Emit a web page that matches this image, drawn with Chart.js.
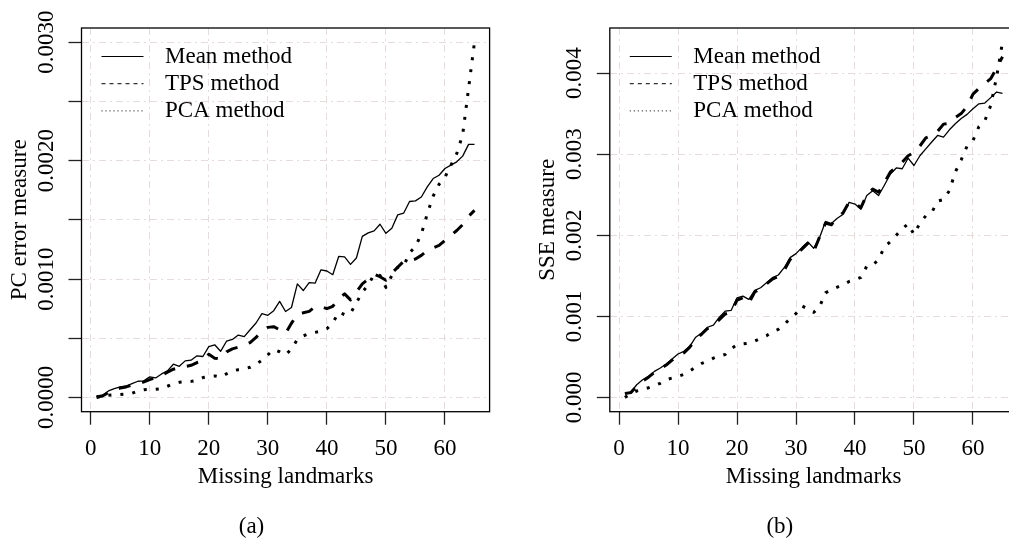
<!DOCTYPE html>
<html>
<head>
<meta charset="utf-8">
<script src="https://cdn.jsdelivr.net/npm/chart.js@4/dist/chart.umd.min.js"></script>
<style>
  html, body { margin: 0; padding: 0; background: #fff; overflow: hidden; width: 1009px; height: 539px; }
  .panel { position: absolute; top: 0; }
  #wrapA { left: 0; }
  #wrapB { left: 500px; }
</style>
</head>
<body>
<div class="panel" id="wrapA"><canvas id="chartA" width="500" height="539"></canvas></div>
<div class="panel" id="wrapB"><canvas id="chartB" width="558" height="539"></canvas></div>
<script>
// Number of missing landmarks (x values)
const missingLandmarks = [
  1, 2, 3, 4, 5, 6, 7, 8, 9, 10, 11, 12, 13, 14, 15, 16, 17, 18, 19, 20,
  21, 22, 23, 24, 25, 26, 27, 28, 29, 30, 31, 32, 33, 34, 35, 36, 37, 38, 39, 40,
  41, 42, 43, 44, 45, 46, 47, 48, 49, 50, 51, 52, 53, 54, 55, 56, 57, 58, 59, 60,
  61, 62, 63, 64, 65
];

// (a) PC error measure
const pcMean = [
  0.13e-4, 0.19e-4, 0.55e-4, 0.75e-4, 0.89e-4, 0.97e-4, 1.17e-4, 1.37e-4, 1.40e-4, 1.74e-4,
  1.65e-4, 1.99e-4, 2.25e-4, 2.81e-4, 2.63e-4, 3.09e-4, 3.15e-4, 3.52e-4, 3.46e-4, 4.30e-4,
  4.45e-4, 3.90e-4, 4.75e-4, 4.90e-4, 5.27e-4, 5.14e-4, 5.72e-4, 6.29e-4, 7.08e-4, 6.94e-4,
  7.33e-4, 8.12e-4, 7.26e-4, 7.60e-4, 9.59e-4, 9.03e-4, 9.70e-4, 9.65e-4, 10.78e-4, 10.68e-4,
  10.37e-4, 11.91e-4, 11.88e-4, 11.24e-4, 11.78e-4, 13.60e-4, 13.90e-4, 14.07e-4, 14.63e-4, 13.86e-4,
  14.30e-4, 15.42e-4, 15.56e-4, 16.55e-4, 16.60e-4, 16.93e-4, 17.78e-4, 18.49e-4, 18.77e-4, 19.34e-4,
  19.62e-4, 19.90e-4, 20.38e-4, 21.37e-4, 21.37e-4
];
const pcTps = [
  0.04e-4, 0.13e-4, 0.41e-4, 0.65e-4, 0.80e-4, 0.89e-4, 1.06e-4, 1.20e-4, 1.31e-4, 1.51e-4,
  1.68e-4, 1.85e-4, 2.14e-4, 2.39e-4, 2.53e-4, 2.61e-4, 2.72e-4, 2.95e-4, 3.10e-4, 3.65e-4,
  3.32e-4, 3.25e-4, 3.85e-4, 4.10e-4, 4.25e-4, 4.40e-4, 4.64e-4, 5.07e-4, 5.64e-4, 5.92e-4,
  5.98e-4, 5.72e-4, 5.41e-4, 6.26e-4, 7.05e-4, 7.15e-4, 7.27e-4, 7.67e-4, 7.67e-4, 7.50e-4,
  7.70e-4, 8.32e-4, 8.75e-4, 8.24e-4, 8.90e-4, 9.60e-4, 10.00e-4, 10.40e-4, 10.20e-4, 9.90e-4,
  10.50e-4, 11.00e-4, 11.50e-4, 11.60e-4, 11.70e-4, 12.00e-4, 12.40e-4, 12.64e-4, 12.84e-4, 13.26e-4,
  13.70e-4, 14.10e-4, 14.60e-4, 15.30e-4, 15.80e-4
];
const pcPca = [
  0.00e-4, 0.10e-4, 0.19e-4, 0.22e-4, 0.25e-4, 0.30e-4, 0.36e-4, 0.55e-4, 0.66e-4, 0.68e-4,
  0.70e-4, 0.75e-4, 0.95e-4, 1.15e-4, 1.28e-4, 1.33e-4, 1.36e-4, 1.45e-4, 1.68e-4, 1.78e-4,
  1.82e-4, 1.72e-4, 2.00e-4, 2.25e-4, 2.35e-4, 2.42e-4, 2.55e-4, 2.80e-4, 3.15e-4, 3.60e-4,
  4.05e-4, 3.86e-4, 3.60e-4, 4.10e-4, 4.90e-4, 5.20e-4, 5.40e-4, 5.50e-4, 5.60e-4, 5.80e-4,
  6.30e-4, 7.20e-4, 7.00e-4, 7.10e-4, 8.00e-4, 8.90e-4, 9.50e-4, 10.40e-4, 10.30e-4, 9.30e-4,
  10.30e-4, 11.00e-4, 11.10e-4, 12.20e-4, 12.75e-4, 13.80e-4, 15.50e-4, 17.00e-4, 18.00e-4, 18.60e-4,
  19.60e-4, 20.60e-4, 22.20e-4, 26.10e-4, 30.00e-4
];

// (b) SSE measure
const sseMean = [
  0.53e-4, 0.66e-4, 1.57e-4, 2.19e-4, 2.60e-4, 3.22e-4, 3.63e-4, 4.12e-4, 4.74e-4, 5.36e-4,
  5.69e-4, 6.31e-4, 7.43e-4, 7.96e-4, 8.66e-4, 8.91e-4, 9.90e-4, 10.64e-4, 10.73e-4, 12.29e-4,
  12.50e-4, 12.09e-4, 13.20e-4, 13.53e-4, 14.15e-4, 14.77e-4, 15.10e-4, 16.00e-4, 17.24e-4, 17.74e-4,
  18.48e-4, 19.18e-4, 18.40e-4, 19.72e-4, 21.70e-4, 21.45e-4, 22.10e-4, 22.60e-4, 24.05e-4, 23.85e-4,
  23.20e-4, 24.90e-4, 25.50e-4, 24.90e-4, 26.20e-4, 27.56e-4, 28.30e-4, 28.20e-4, 29.50e-4, 28.60e-4,
  29.80e-4, 30.65e-4, 31.50e-4, 32.30e-4, 32.10e-4, 33.00e-4, 33.75e-4, 34.40e-4, 34.90e-4, 35.60e-4,
  36.20e-4, 36.30e-4, 36.97e-4, 37.66e-4, 37.50e-4
];
const sseTps = [
  0.50e-4, 0.60e-4, 1.40e-4, 2.00e-4, 2.50e-4, 3.10e-4, 3.50e-4, 4.00e-4, 4.60e-4, 5.20e-4,
  5.50e-4, 6.20e-4, 7.20e-4, 7.80e-4, 8.50e-4, 8.80e-4, 9.60e-4, 10.30e-4, 10.50e-4, 12.00e-4,
  12.30e-4, 11.60e-4, 13.00e-4, 13.40e-4, 14.00e-4, 14.60e-4, 14.90e-4, 15.70e-4, 17.00e-4, 17.60e-4,
  18.30e-4, 19.00e-4, 18.00e-4, 19.80e-4, 21.50e-4, 21.30e-4, 22.20e-4, 22.80e-4, 24.10e-4, 23.90e-4,
  23.40e-4, 25.00e-4, 25.70e-4, 25.30e-4, 26.50e-4, 27.80e-4, 28.40e-4, 29.00e-4, 29.80e-4, 30.20e-4,
  31.00e-4, 32.00e-4, 32.30e-4, 32.80e-4, 33.70e-4, 33.80e-4, 34.50e-4, 35.00e-4, 35.90e-4, 37.40e-4,
  38.10e-4, 38.70e-4, 39.30e-4, 40.60e-4, 42.00e-4
];
const ssePca = [
  0.00e-4, 0.50e-4, 0.80e-4, 1.00e-4, 1.20e-4, 1.45e-4, 1.75e-4, 2.20e-4, 2.40e-4, 2.60e-4,
  2.85e-4, 3.25e-4, 3.75e-4, 4.20e-4, 4.50e-4, 4.85e-4, 5.10e-4, 5.30e-4, 6.00e-4, 6.50e-4,
  6.60e-4, 6.70e-4, 6.95e-4, 7.30e-4, 7.60e-4, 8.10e-4, 8.40e-4, 9.00e-4, 9.70e-4, 10.35e-4,
  11.30e-4, 10.90e-4, 10.50e-4, 11.20e-4, 12.90e-4, 13.30e-4, 13.60e-4, 13.90e-4, 14.30e-4, 14.50e-4,
  14.80e-4, 16.20e-4, 16.30e-4, 17.00e-4, 18.60e-4, 19.20e-4, 20.00e-4, 20.80e-4, 21.40e-4, 20.10e-4,
  21.50e-4, 22.40e-4, 22.80e-4, 24.20e-4, 24.40e-4, 25.50e-4, 27.80e-4, 29.30e-4, 31.00e-4, 31.70e-4,
  33.40e-4, 34.10e-4, 36.00e-4, 39.50e-4, 43.80e-4
];

// Axis ticks and labels
const xTicks = [0, 10, 20, 30, 40, 50, 60];
const xTickLabels = ['0', '10', '20', '30', '40', '50', '60'];
const pcTicks = [0, 0.0005, 0.0010, 0.0015, 0.0020, 0.0025, 0.0030];
const pcLabelValues = [0, 0.0010, 0.0020, 0.0030];
const pcTickLabels = ['0.0000', '0.0010', '0.0020', '0.0030'];
const sseTicks = [0, 0.001, 0.002, 0.003, 0.004];
const sseTickLabels = ['0.000', '0.001', '0.002', '0.003', '0.004'];

const seriesNames = ['Mean method', 'TPS method', 'PCA method'];

const FONT = '"Liberation Serif", "Times New Roman", serif';
const FS = 23;

// range padded by 4% on each side, as base graphics does
function paddedRange(arrays) {
  const all = [].concat(...arrays);
  const lo = Math.min(...all), hi = Math.max(...all);
  const pad = 0.04 * (hi - lo);
  return [lo - pad, hi + pad];
}

const gridColor = '#e6dcdc';
const gridDash = [7, 4, 2, 4];

// Box, tick labels, axis titles, legend and caption
const decor = {
  id: 'decor',
  afterDraw(chart, args, o) {
    const { ctx, chartArea: ca, scales } = chart;
    ctx.save();
    ctx.setLineDash([]);
    ctx.strokeStyle = '#000';
    ctx.lineWidth = 1.3;
    ctx.strokeRect(ca.left, ca.top, ca.right - ca.left, ca.bottom - ca.top);

    ctx.fillStyle = '#000';
    ctx.font = FS + 'px ' + FONT;
    ctx.textAlign = 'center';
    ctx.textBaseline = 'middle';

    xTicks.forEach((v, k) => {
      ctx.fillText(xTickLabels[k], scales.x.getPixelForValue(v), ca.bottom + 37);
    });
    ctx.fillText('Missing landmarks', (ca.left + ca.right) / 2, ca.bottom + 65);
    ctx.fillText(o.caption, ca.left + 170, ca.bottom + 115);

    o.yLabelValues.forEach((v, k) => {
      const y = scales.y.getPixelForValue(v);
      ctx.save();
      ctx.translate(ca.left - 35, y);
      ctx.rotate(-Math.PI / 2);
      ctx.fillText(o.yLabels[k], 0, 0);
      ctx.restore();
    });
    ctx.save();
    ctx.translate(ca.left - 62, (ca.top + ca.bottom) / 2);
    ctx.rotate(-Math.PI / 2);
    ctx.fillText(o.yTitle, 0, 0);
    ctx.restore();

    // legend
    const styles = [
      { dash: [], width: 1 },
      { dash: [4, 4], width: 1 },
      { dash: [1, 3], width: 1 }
    ];
    ctx.textAlign = 'left';
    seriesNames.forEach((name, k) => {
      const y = ca.top + 28.5 + k * 27.2;
      ctx.beginPath();
      ctx.setLineDash(styles[k].dash);
      ctx.lineWidth = styles[k].width;
      ctx.moveTo(ca.left + 20, y);
      ctx.lineTo(ca.left + 62, y);
      ctx.stroke();
      ctx.setLineDash([]);
      ctx.fillText(name, ca.left + 83.5, y);
    });
    ctx.restore();
  }
};

function makePanel(canvasId, series, yTicks, yLabelValues, yLabels, yTitle, caption, padding) {
  const [xmin, xmax] = paddedRange([missingLandmarks]);
  const [ymin, ymax] = paddedRange(series);
  const lineStyles = [
    { borderWidth: 1.3, borderDash: [] },
    { borderWidth: 3, borderDash: [12, 12] },
    { borderWidth: 3, borderDash: [3, 9] }
  ];
  return new Chart(document.getElementById(canvasId), {
    type: 'line',
    data: {
      datasets: series.map((vals, k) => ({
        label: seriesNames[k],
        data: vals.map((v, j) => ({ x: missingLandmarks[j], y: v })),
        borderColor: '#000',
        borderWidth: lineStyles[k].borderWidth,
        borderDash: lineStyles[k].borderDash,
        borderCapStyle: 'butt',
        borderJoinStyle: 'round',
        pointRadius: 0,
        tension: 0,
        fill: false
      }))
    },
    options: {
      responsive: false,
      animation: false,
      devicePixelRatio: 1,
      layout: { padding },
      plugins: {
        legend: { display: false },
        tooltip: { enabled: false },
        decor: { caption, yTitle, yLabelValues, yLabels }
      },
      scales: {
        x: {
          type: 'linear',
          min: xmin, max: xmax,
          afterBuildTicks: s => { s.ticks = xTicks.map(v => ({ value: v })); },
          afterFit: s => { s.height = 0; },
          ticks: { display: false },
          grid: {
            color: gridColor, lineWidth: 1,
            drawTicks: true, tickLength: 13, tickColor: '#222', tickWidth: 1.3, tickBorderDash: []
          },
          border: { display: false, dash: gridDash }
        },
        y: {
          type: 'linear',
          min: ymin, max: ymax,
          afterBuildTicks: s => { s.ticks = yTicks.map(v => ({ value: v })); },
          afterFit: s => { s.width = 0; },
          ticks: { display: false },
          grid: {
            color: gridColor, lineWidth: 1,
            drawTicks: true, tickLength: 13, tickColor: '#222', tickWidth: 1.3, tickBorderDash: []
          },
          border: { display: false, dash: gridDash }
        }
      }
    },
    plugins: [decor]
  });
}

makePanel('chartA', [pcMean, pcTps, pcPca], pcTicks, pcLabelValues, pcTickLabels,
  'PC error measure', '(a)', { left: 81.5, top: 28, right: 10.4, bottom: 127.3 });
makePanel('chartB', [sseMean, sseTps, ssePca], sseTicks, sseTicks, sseTickLabels,
  'SSE measure', '(b)', { left: 109.8, top: 28, right: 40.4, bottom: 127.3 });
</script>
</body>
</html>
